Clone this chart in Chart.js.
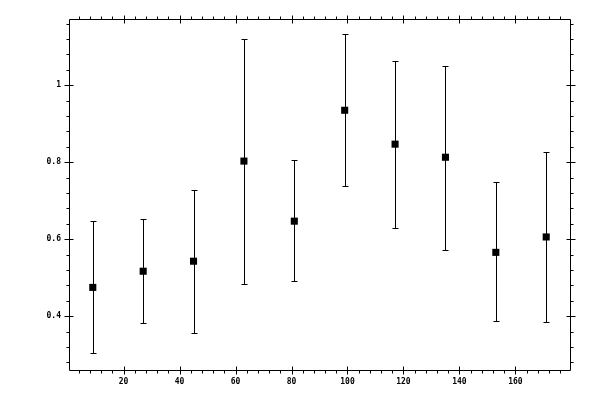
<!DOCTYPE html>
<html>
<head>
<meta charset="utf-8">
<script src="https://cdn.jsdelivr.net/npm/chart.js@4/dist/chart.umd.min.js"></script>
<style>
    html, body { margin: 0; padding: 0; background: #fff; }
    #wrap { width: 600px; height: 400px; }
</style>
</head>
<body>
<div id="wrap"><canvas id="errChart"></canvas></div>
<script>
"use strict";

const binCentres = [9, 27, 45, 63, 81, 99, 117, 135, 153, 171];
const meanValues = [0.475, 0.517, 0.543, 0.803, 0.647, 0.935, 0.847, 0.813, 0.566, 0.606];
const upperValues = [0.647, 0.652, 0.727, 1.121, 0.805, 1.132, 1.064, 1.051, 0.750, 0.826];
const lowerValues = [0.304, 0.382, 0.356, 0.483, 0.492, 0.738, 0.629, 0.571, 0.387, 0.384];

const xTicks = [20, 40, 60, 80, 100, 120, 140, 160];
const yTicks = [0.4, 0.6, 0.8, 1];

const xMin = 0.5, xMax = 179.5, xMinorStep = 4;
const yMin = 0.2605, yMax = 1.172, yMinorStep = 0.04;

const tickFont = { family: "DejaVu Sans Mono", size: 8, weight: "bold" };

function buildPoints()
{
    return binCentres.map((x, i) => ({ x: x, y: meanValues[i] }));
}

function minorValues(min, max, step)
{
    const values = [];
    const start = Math.ceil(min / step - 1e-9);
    for (let k = start; k * step <= max + 1e-9; k++)
        values.push(+(k * step).toFixed(6));
    return values;
}

// error bars, drawn under the markers
const errorBarPlugin = {
    id: "errorBars",
    beforeDatasetsDraw(chart) {
        const ctx = chart.ctx;
        const xs = chart.scales.x;
        const ys = chart.scales.y;
        ctx.save();
        ctx.strokeStyle = "#000";
        ctx.lineWidth = 1;
        binCentres.forEach((x, i) => {
            const px = Math.round(xs.getPixelForValue(x)) + 0.5;
            const top = Math.round(ys.getPixelForValue(upperValues[i])) + 0.5;
            const bot = Math.round(ys.getPixelForValue(lowerValues[i])) + 0.5;
            ctx.beginPath();
            ctx.moveTo(px, top);
            ctx.lineTo(px, bot);
            ctx.moveTo(px - 3, top);
            ctx.lineTo(px + 3, top);
            ctx.moveTo(px - 3, bot);
            ctx.lineTo(px + 3, bot);
            ctx.stroke();
        });
        ctx.restore();
    }
};

// box frame with ticks on all four sides
const framePlugin = {
    id: "frame",
    afterDraw(chart) {
        const ctx = chart.ctx;
        const a = chart.chartArea;
        const xs = chart.scales.x;
        const ys = chart.scales.y;
        const L = Math.round(a.left) + 0.5, R = Math.round(a.right) + 0.5;
        const T = Math.round(a.top) + 0.5, B = Math.round(a.bottom) + 0.5;

        ctx.save();
        ctx.strokeStyle = "#000";
        ctx.lineWidth = 1;
        ctx.beginPath();
        ctx.rect(L, T, R - L, B - T);

        minorValues(xMin, xMax, xMinorStep).forEach(v => {
            const p = Math.round(xs.getPixelForValue(v)) + 0.5;
            ctx.moveTo(p, B); ctx.lineTo(p, B + 3);
            ctx.moveTo(p, T); ctx.lineTo(p, T - 3);
        });
        xTicks.forEach(v => {
            const p = Math.round(xs.getPixelForValue(v)) + 0.5;
            ctx.moveTo(p, B - 4); ctx.lineTo(p, B + 4);
            ctx.moveTo(p, T - 4); ctx.lineTo(p, T + 4);
        });
        minorValues(yMin, yMax, yMinorStep).forEach(v => {
            const p = Math.round(ys.getPixelForValue(v)) + 0.5;
            ctx.moveTo(L, p); ctx.lineTo(L - 3, p);
            ctx.moveTo(R, p); ctx.lineTo(R + 3, p);
        });
        yTicks.forEach(v => {
            const p = Math.round(ys.getPixelForValue(v)) + 0.5;
            ctx.moveTo(L - 5, p); ctx.lineTo(L + 4, p);
            ctx.moveTo(R - 4, p); ctx.lineTo(R + 5, p);
        });
        ctx.stroke();
        ctx.restore();
    }
};

new Chart(document.getElementById("errChart"), {
    type: "scatter",
    data: {
        datasets: [{
            data: buildPoints(),
            pointStyle: "rect",
            pointRadius: 5,
            pointHoverRadius: 5,
            pointBorderWidth: 0,
            backgroundColor: "#000",
            borderColor: "#000"
        }]
    },
    options: {
        responsive: true,
        maintainAspectRatio: false,
        animation: false,
        events: [],
        layout: { padding: { top: 19, right: 30, left: 0, bottom: 0 } },
        plugins: {
            legend: { display: false },
            tooltip: { enabled: false }
        },
        scales: {
            x: {
                type: "linear",
                min: xMin,
                max: xMax,
                border: { display: false },
                grid: { display: false, drawTicks: false },
                afterBuildTicks: s => { s.ticks = xTicks.map(v => ({ value: v })); },
                afterFit: s => { s.height = 30; },
                ticks: {
                    color: "#000",
                    font: tickFont,
                    padding: 7,
                    maxRotation: 0,
                    autoSkip: false,
                    callback: v => String(v)
                }
            },
            y: {
                type: "linear",
                min: yMin,
                max: yMax,
                border: { display: false },
                grid: { display: false, drawTicks: false },
                afterBuildTicks: s => { s.ticks = yTicks.map(v => ({ value: v })); },
                afterFit: s => { s.width = 69; },
                ticks: {
                    color: "#000",
                    font: tickFont,
                    padding: 8,
                    autoSkip: false,
                    callback: v => String(v)
                }
            }
        }
    },
    plugins: [errorBarPlugin, framePlugin]
});
</script>
</body>
</html>
